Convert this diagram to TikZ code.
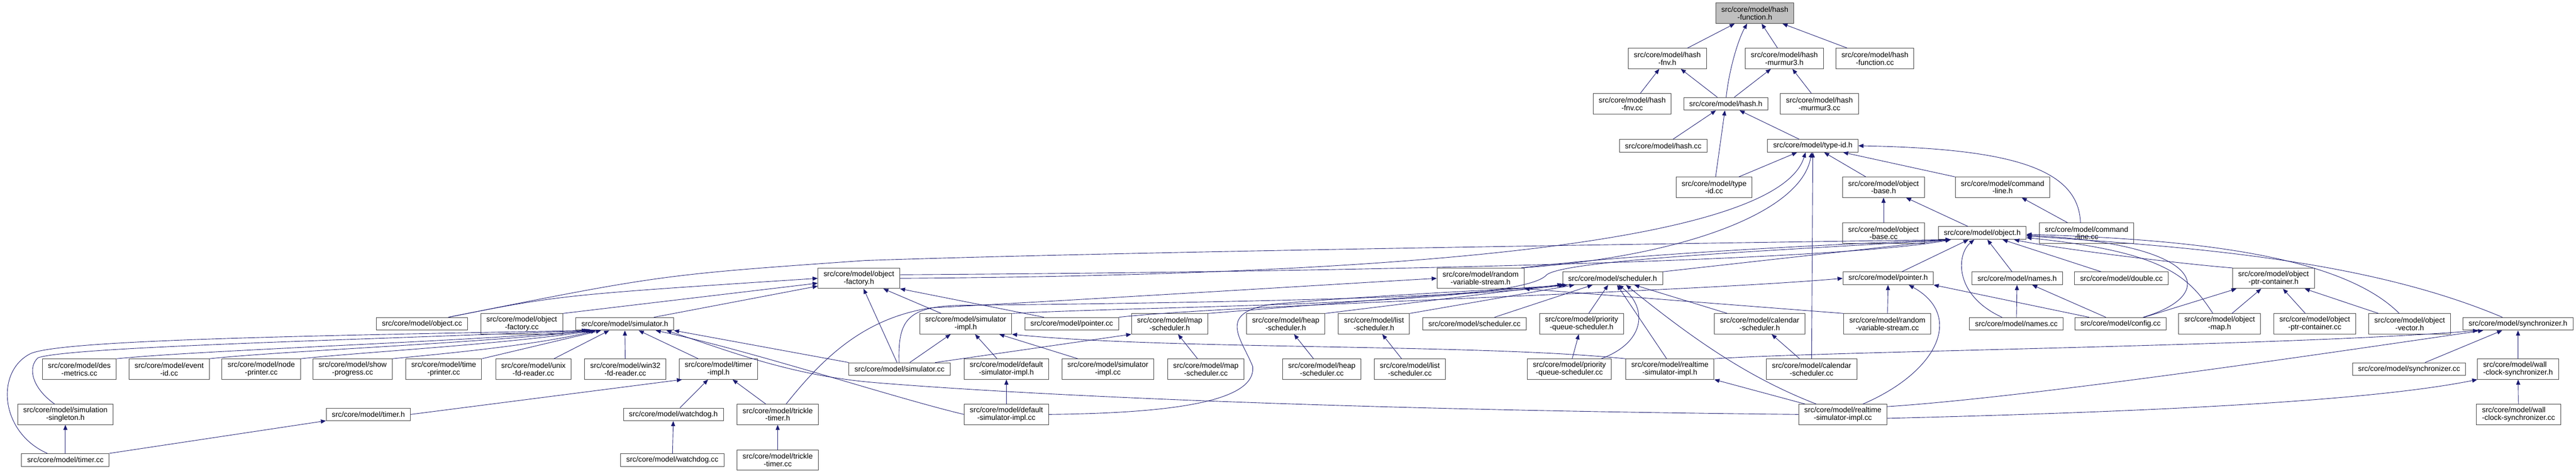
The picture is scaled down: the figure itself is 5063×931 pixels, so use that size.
\documentclass[tikz,border=0pt]{standalone}
\usepackage{fontspec}
\setmainfont{Liberation Sans}
\usetikzlibrary{arrows.meta}
\definecolor{edgeblue}{RGB}{25,25,112}
\tikzset{
    srcfile/.style={
        rectangle, draw=black!75, line width=1pt,
        fill=white, inner xsep=11pt, inner ysep=2pt,
        minimum height=25pt, align=center,
        font=\fontsize{14.6pt}{15pt}\selectfont
    },
    twoline/.style={minimum height=40pt},
    rootfile/.style={srcfile, twoline, fill=black!25},
    dep/.style={draw=edgeblue, line width=0.9pt, -{Triangle[length=10pt,width=8pt]}}
}

\begin{document}
\begin{tikzpicture}[x=1pt, y=-1pt]

\path[use as bounding box, fill=white] (0,0) rectangle (5063,931);

% Row 0: the included header
\node[rootfile] (hash_function_h) at (3449,26) {src/core/model/hash\\-function.h};

% Rows 1-5: hash and type-id files
\node[srcfile, twoline] (hash_fnv_h) at (3277,115) {src/core/model/hash\\-fnv.h};
\node[srcfile, twoline] (hash_murmur3_h) at (3507,115) {src/core/model/hash\\-murmur3.h};
\node[srcfile, twoline] (hash_function_cc) at (3685,115) {src/core/model/hash\\-function.cc};

\node[srcfile, twoline] (hash_fnv_cc) at (3208,204) {src/core/model/hash\\-fnv.cc};
\node[srcfile] (hash_h) at (3392,204) {src/core/model/hash.h};
\node[srcfile, twoline] (hash_murmur3_cc) at (3576,204) {src/core/model/hash\\-murmur3.cc};

\node[srcfile] (hash_cc) at (3269,286.5) {src/core/model/hash.cc};
\node[srcfile] (type_id_h) at (3563,286.5) {src/core/model/type-id.h};

\node[srcfile, twoline] (type_id_cc) at (3369,368) {src/core/model/type\\-id.cc};
\node[srcfile, twoline] (object_base_h) at (3702,368) {src/core/model/object\\-base.h};
\node[srcfile, twoline] (command_line_h) at (3936,368) {src/core/model/command\\-line.h};

\node[srcfile, twoline] (object_base_cc) at (3702,458) {src/core/model/object\\-base.cc};
\node[srcfile] (object_h) at (3896,458) {src/core/model/object.h};
\node[srcfile, twoline] (command_line_cc) at (4101,458) {src/core/model/command\\-line.cc};

% Row 6
\node[srcfile, twoline] (object_factory_h) at (1688,547) {src/core/model/object\\-factory.h};
\node[srcfile, twoline] (random_variable_stream_h) at (2910,547) {src/core/model/random\\-variable-stream.h};
\node[srcfile] (scheduler_h) at (3169.5,547) {src/core/model/scheduler.h};
\node[srcfile] (pointer_h) at (3711,547) {src/core/model/pointer.h};
\node[srcfile] (names_h) at (3964.5,547) {src/core/model/names.h};
\node[srcfile] (double_cc) at (4169.5,547) {src/core/model/double.cc};
\node[srcfile, twoline] (object_ptr_container_h) at (4468.5,547) {src/core/model/object\\-ptr-container.h};

% Row 7
\node[srcfile] (object_cc) at (829.5,636.5) {src/core/model/object.cc};
\node[srcfile, twoline] (object_factory_cc) at (1025.5,636.5) {src/core/model/object\\-factory.cc};
\node[srcfile] (simulator_h) at (1228,636.5) {src/core/model/simulator.h};
\node[srcfile, twoline] (simulator_impl_h) at (1898,636.5) {src/core/model/simulator\\-impl.h};
\node[srcfile] (pointer_cc) at (2106.5,636.5) {src/core/model/pointer.cc};
\node[srcfile, twoline] (map_scheduler_h) at (2299,636.5) {src/core/model/map\\-scheduler.h};
\node[srcfile, twoline] (heap_scheduler_h) at (2527,636.5) {src/core/model/heap\\-scheduler.h};
\node[srcfile, twoline] (list_scheduler_h) at (2700.5,636.5) {src/core/model/list\\-scheduler.h};
\node[srcfile] (scheduler_cc) at (2898,636.5) {src/core/model/scheduler.cc};
\node[srcfile, twoline] (priority_queue_scheduler_h) at (3108.5,636.5) {src/core/model/priority\\-queue-scheduler.h};
\node[srcfile, twoline] (calendar_scheduler_h) at (3458.5,636.5) {src/core/model/calendar\\-scheduler.h};
\node[srcfile, twoline] (random_variable_stream_cc) at (3709.5,636.5) {src/core/model/random\\-variable-stream.cc};
\node[srcfile] (names_cc) at (3963,636.5) {src/core/model/names.cc};
\node[srcfile] (config_cc) at (4168,636.5) {src/core/model/config.cc};
\node[srcfile, twoline] (object_map_h) at (4362.5,636.5) {src/core/model/object\\-map.h};
\node[srcfile, twoline] (object_ptr_container_cc) at (4549.5,636.5) {src/core/model/object\\-ptr-container.cc};
\node[srcfile, twoline] (object_vector_h) at (4736,636.5) {src/core/model/object\\-vector.h};
\node[srcfile] (synchronizer_h) at (4949,636.5) {src/core/model/synchronizer.h};

% Row 8
\node[srcfile, twoline] (des_metrics_cc) at (156,725.5) {src/core/model/des\\-metrics.cc};
\node[srcfile, twoline] (event_id_cc) at (332.5,725.5) {src/core/model/event\\-id.cc};
\node[srcfile, twoline] (node_printer_cc) at (513.5,725.5) {src/core/model/node\\-printer.cc};
\node[srcfile, twoline] (show_progress_cc) at (693,725.5) {src/core/model/show\\-progress.cc};
\node[srcfile, twoline] (time_printer_cc) at (872,725.5) {src/core/model/time\\-printer.cc};
\node[srcfile, twoline] (unix_fd_reader_cc) at (1048.5,725.5) {src/core/model/unix\\-fd-reader.cc};
\node[srcfile, twoline] (win32_fd_reader_cc) at (1229,725.5) {src/core/model/win32\\-fd-reader.cc};
\node[srcfile, twoline] (timer_impl_h) at (1412,725.5) {src/core/model/timer\\-impl.h};
\node[srcfile] (simulator_cc) at (1768,725.5) {src/core/model/simulator.cc};
\node[srcfile, twoline] (default_simulator_impl_h) at (1978,725.5) {src/core/model/default\\-simulator-impl.h};
\node[srcfile, twoline] (simulator_impl_cc) at (2177.5,725.5) {src/core/model/simulator\\-impl.cc};
\node[srcfile, twoline] (map_scheduler_cc) at (2370,725.5) {src/core/model/map\\-scheduler.cc};
\node[srcfile, twoline] (heap_scheduler_cc) at (2598,725.5) {src/core/model/heap\\-scheduler.cc};
\node[srcfile, twoline] (list_scheduler_cc) at (2771,725.5) {src/core/model/list\\-scheduler.cc};
\node[srcfile, twoline] (priority_queue_scheduler_cc) at (3084.5,725.5) {src/core/model/priority\\-queue-scheduler.cc};
\node[srcfile, twoline] (realtime_simulator_impl_h) at (3282,725.5) {src/core/model/realtime\\-simulator-impl.h};
\node[srcfile, twoline] (calendar_scheduler_cc) at (3560.5,725.5) {src/core/model/calendar\\-scheduler.cc};
\node[srcfile] (synchronizer_cc) at (4735,725.5) {src/core/model/synchronizer.cc};
\node[srcfile, twoline, align=left] (wall_clock_synchronizer_h) at (4949,725.5) {src/core/model/wall\\-clock-synchronizer.h};

% Row 9
\node[srcfile, twoline] (simulation_singleton_h) at (128.5,814.5) {src/core/model/simulation\\-singleton.h};
\node[srcfile] (timer_h) at (724,814.5) {src/core/model/timer.h};
\node[srcfile] (watchdog_h) at (1323.5,814.5) {src/core/model/watchdog.h};
\node[srcfile, twoline] (trickle_timer_h) at (1528.5,814.5) {src/core/model/trickle\\-timer.h};
\node[srcfile, twoline] (default_simulator_impl_cc) at (1978,814.5) {src/core/model/default\\-simulator-impl.cc};
\node[srcfile, twoline] (realtime_simulator_impl_cc) at (3622,814.5) {src/core/model/realtime\\-simulator-impl.cc};
\node[srcfile, twoline, align=left] (wall_clock_synchronizer_cc) at (4950,814.5) {src/core/model/wall\\-clock-synchronizer.cc};

% Row 10
\node[srcfile] (timer_cc) at (128.5,904) {src/core/model/timer.cc};
\node[srcfile] (watchdog_cc) at (1321.5,904) {src/core/model/watchdog.cc};
\node[srcfile, twoline] (trickle_timer_cc) at (1528.5,904) {src/core/model/trickle\\-timer.cc};

% Hash files
\draw[dep] (hash_fnv_h) -- (hash_function_h);
\draw[dep] ([xshift=84pt]hash_h.north west) .. controls (3398,140) and (3415,80) .. ([xshift=62pt]hash_function_h.south west);
\draw[dep] (hash_murmur3_h) -- (hash_function_h);
\draw[dep] (hash_function_cc) -- (hash_function_h);
\draw[dep] (hash_fnv_cc) -- (hash_fnv_h);
\draw[dep] (hash_h) -- (hash_fnv_h);
\draw[dep] (hash_h) -- (hash_murmur3_h);
\draw[dep] (hash_murmur3_cc) -- (hash_murmur3_h);
\draw[dep] (hash_cc) -- (hash_h);
\draw[dep] (type_id_cc) -- (hash_h);
\draw[dep] (type_id_h) -- (hash_h);

% type-id.h
\draw[dep] (type_id_cc) -- (type_id_h);
\draw[dep] (object_base_h) -- (type_id_h);
\draw[dep] (command_line_h) -- (type_id_h);
\draw[dep] ([xshift=-12pt]command_line_cc.north) .. controls (4085,330) and (3950,292) .. (type_id_h.east);
\draw[dep] (object_factory_h.east) .. controls (2900,540) and (3500,460) .. ([xshift=75pt]type_id_h.south west);
\draw[dep] ([xshift=-6pt]random_variable_stream_h.north east) .. controls (3300,505) and (3540,420) .. ([xshift=87pt]type_id_h.south west);
\draw[dep] (calendar_scheduler_cc) -- (type_id_h);
\draw[dep] (object_base_cc) -- (object_base_h);
\draw[dep] (object_h) -- (object_base_h);
\draw[dep] (command_line_cc) -- (command_line_h);

% object.h
\draw[dep] ([xshift=142pt]object_cc.north west) .. controls (1300,540) .. (1700,512) .. controls (2200,495) and (3200,480) .. ([xshift=25pt]object_h.south west);
\draw[dep] (object_factory_h.5) .. controls (2600,535) and (3600,515) .. ([xshift=25pt]object_h.south west);
\draw[dep] ([xshift=-6pt]random_variable_stream_h.north east) .. controls (3200,500) and (3600,480) .. ([xshift=25pt]object_h.south west);
\draw[dep] (scheduler_h.north east) -- ([xshift=25pt]object_h.south west);
\draw[dep] (simulator_impl_h.north east) .. controls (2300,600) and (2990,600) .. (3040,540) .. controls (3080,510) and (3500,492) .. ([xshift=25pt]object_h.south west);
\draw[dep] (pointer_h) -- (object_h);
\draw[dep] (names_cc) .. controls (3840,580) and (3845,500) .. (object_h);
\draw[dep] (names_h) -- (object_h);
\draw[dep] (double_cc) -- (object_h);
\draw[dep] (object_ptr_container_h.north west) .. controls (4300,520) and (4050,490) .. (object_h);
\draw[dep] (config_cc) .. controls (4360,580) and (4340,480) .. (object_h);
\draw[dep] (object_map_h) .. controls (4300,540) and (4250,495) .. (object_h);
\draw[dep] (object_vector_h) .. controls (4600,500) and (4300,470) .. (object_h);
\draw[dep] (synchronizer_h) .. controls (4650,510) and (4300,485) .. (object_h);

% object-factory.h
\draw[dep] ([xshift=142pt]object_cc.north west) .. controls (1100,580) .. (object_factory_h.west);
\draw[dep] (object_factory_cc.north east) -- (object_factory_h);
\draw[dep] ([xshift=154pt]simulator_h.north west) -- (object_factory_h);
\draw[dep] (simulator_impl_h) -- (object_factory_h);
\draw[dep] ([xshift=38pt]pointer_cc.north west) -- (object_factory_h.south east);
\draw[dep] ([xshift=95pt]simulator_cc.north west) -- (object_factory_h);

% scheduler.h
\draw[dep] (map_scheduler_h.north east) -- ([xshift=5pt]scheduler_h.south west);
\draw[dep] (heap_scheduler_h.north east) -- (scheduler_h);
\draw[dep] (list_scheduler_h.north east) -- (scheduler_h);
\draw[dep] (scheduler_cc) -- (scheduler_h);
\draw[dep] (priority_queue_scheduler_h) -- (scheduler_h);
\draw[dep] ([xshift=26pt]calendar_scheduler_h.north west) -- (scheduler_h);
\draw[dep] ([xshift=146pt]priority_queue_scheduler_cc.north west) .. controls (3240,670) and (3235,600) .. ([xshift=110pt]scheduler_h.south west);
\draw[dep] ([xshift=81pt]realtime_simulator_impl_h.north west) -- (scheduler_h);
\draw[dep] ([xshift=35pt]realtime_simulator_impl_cc.north west) .. controls (3430,740) and (3320,660) .. ([xshift=125pt]scheduler_h.south west);
\draw[dep] (default_simulator_impl_cc.east) .. controls (2300,812) and (2470,790) .. (2462,720) .. controls (2440,665) and (2390,615) .. (2500,598) .. controls (2700,580) and (2950,570) .. ([xshift=10pt]scheduler_h.south west);
\draw[dep] ([xshift=99pt]simulator_cc.north west) .. controls (1765,630) and (1780,600) .. (1900,600) .. controls (2400,595) and (2900,585) .. ([xshift=3pt]scheduler_h.south west);

% simulator-impl.h and the schedulers
\draw[dep] ([xshift=120pt]simulator_cc.north west) -- (simulator_impl_h);
\draw[dep] (default_simulator_impl_h) -- (simulator_impl_h);
\draw[dep] ([xshift=32pt]simulator_impl_cc.north west) -- (simulator_impl_h);
\draw[dep] (realtime_simulator_impl_h.north west) .. controls (2900,675) and (2300,688) .. (simulator_impl_h.south east);
\draw[dep] ([xshift=170pt]simulator_cc.north west) -- (map_scheduler_h.south west);
\draw[dep] (map_scheduler_cc) -- (map_scheduler_h);
\draw[dep] (heap_scheduler_cc) -- (heap_scheduler_h);
\draw[dep] (list_scheduler_cc) -- (list_scheduler_h);
\draw[dep] (priority_queue_scheduler_cc) -- (priority_queue_scheduler_h);
\draw[dep] (calendar_scheduler_cc) -- (calendar_scheduler_h);
\draw[dep] (default_simulator_impl_cc) -- (default_simulator_impl_h);

% simulator.h
\draw[dep] ([xshift=51pt]timer_cc.north west) .. controls (0,850) and (-10,730) .. (60,695) .. controls (120,668) and (600,660) .. ([xshift=22pt]simulator_h.south west);
\draw[dep] ([xshift=73pt]simulation_singleton_h.north west) .. controls (60,760) and (55,720) .. (75,703) .. controls (140,682) and (650,670) .. ([xshift=26pt]simulator_h.south west);
\draw[dep] (des_metrics_cc.north east) .. controls (400,688) and (900,672) .. ([xshift=30pt]simulator_h.south west);
\draw[dep] (event_id_cc.north east) .. controls (550,690) and (950,674) .. ([xshift=33pt]simulator_h.south west);
\draw[dep] (node_printer_cc.north east) .. controls (700,693) and (1000,676) .. ([xshift=36pt]simulator_h.south west);
\draw[dep] (show_progress_cc.north east) .. controls (850,697) and (1050,680) .. ([xshift=40pt]simulator_h.south west);
\draw[dep] (time_printer_cc.north east) -- ([xshift=50pt]simulator_h.south west);
\draw[dep] ([xshift=115pt]unix_fd_reader_cc.north west) -- ([xshift=66pt]simulator_h.south west);
\draw[dep] (win32_fd_reader_cc) -- (simulator_h);
\draw[dep] ([xshift=38pt]timer_impl_h.north west) -- (simulator_h);
\draw[dep] (simulator_cc.north west) -- (simulator_h.south east);
\draw[dep] (default_simulator_impl_cc.west) .. controls (1750,780) and (1480,690) .. ([xshift=-36pt]simulator_h.south east);
\draw[dep] (realtime_simulator_impl_cc.west) .. controls (2600,805) and (2000,775) .. (1720,752) .. controls (1550,738) and (1420,685) .. ([xshift=-15pt]simulator_h.south east);

% Timers
\draw[dep] (timer_cc) -- (simulation_singleton_h);
\draw[dep] (timer_cc.north east) -- (timer_h);
\draw[dep] (timer_h.east) -- ([xshift=6pt]timer_impl_h.south west);
\draw[dep] (watchdog_h) -- (timer_impl_h);
\draw[dep] ([xshift=57pt]trickle_timer_h.north west) -- (timer_impl_h);
\draw[dep] (watchdog_cc) -- (watchdog_h);
\draw[dep] (trickle_timer_cc) -- (trickle_timer_h);
\draw[dep] ([xshift=97pt]trickle_timer_h.north west) .. controls (1620,700) and (1700,625) .. (1830,605) .. controls (2200,585) and (2600,560) .. (random_variable_stream_h.west);

% pointer.h, names.h, random-variable-stream.h
\draw[dep] (pointer_cc.north east) .. controls (2400,600) and (3300,575) .. (pointer_h.west);
\draw[dep] (random_variable_stream_cc) -- (pointer_h);
\draw[dep] ([xshift=127pt]realtime_simulator_impl_cc.north west) .. controls (3810,730) and (3860,620) .. ([xshift=130pt]pointer_h.south west);
\draw[dep] ([xshift=28pt]config_cc.north west) -- (pointer_h.south east);
\draw[dep] (names_cc) -- (names_h);
\draw[dep] ([xshift=61pt]config_cc.north west) -- (names_h);
\draw[dep] (random_variable_stream_cc.north west) -- (random_variable_stream_h.south east);

% object-ptr-container.h
\draw[dep] ([xshift=-44pt]config_cc.north east) -- ([xshift=8pt]object_ptr_container_h.south west);
\draw[dep] (object_map_h) -- (object_ptr_container_h);
\draw[dep] (object_ptr_container_cc) -- (object_ptr_container_h);
\draw[dep] (object_vector_h) -- (object_ptr_container_h);

% synchronizer.h
\draw[dep] (synchronizer_cc) -- (synchronizer_h);
\draw[dep] (wall_clock_synchronizer_h) -- (synchronizer_h);
\draw[dep] (wall_clock_synchronizer_cc) -- (wall_clock_synchronizer_h);
\draw[dep] (realtime_simulator_impl_h.north east) .. controls (3600,690) and (4500,680) .. ([xshift=30pt]synchronizer_h.south west);
\draw[dep] (realtime_simulator_impl_cc.10) .. controls (4000,780) and (4600,690) .. ([xshift=40pt]synchronizer_h.south west);
\draw[dep] (realtime_simulator_impl_cc.-5) .. controls (4200,810) and (4650,790) .. (wall_clock_synchronizer_h.south west);
\draw[dep] ([xshift=13pt]realtime_simulator_impl_cc.north west) -- (realtime_simulator_impl_h.south east);

\end{tikzpicture}
\end{document}
